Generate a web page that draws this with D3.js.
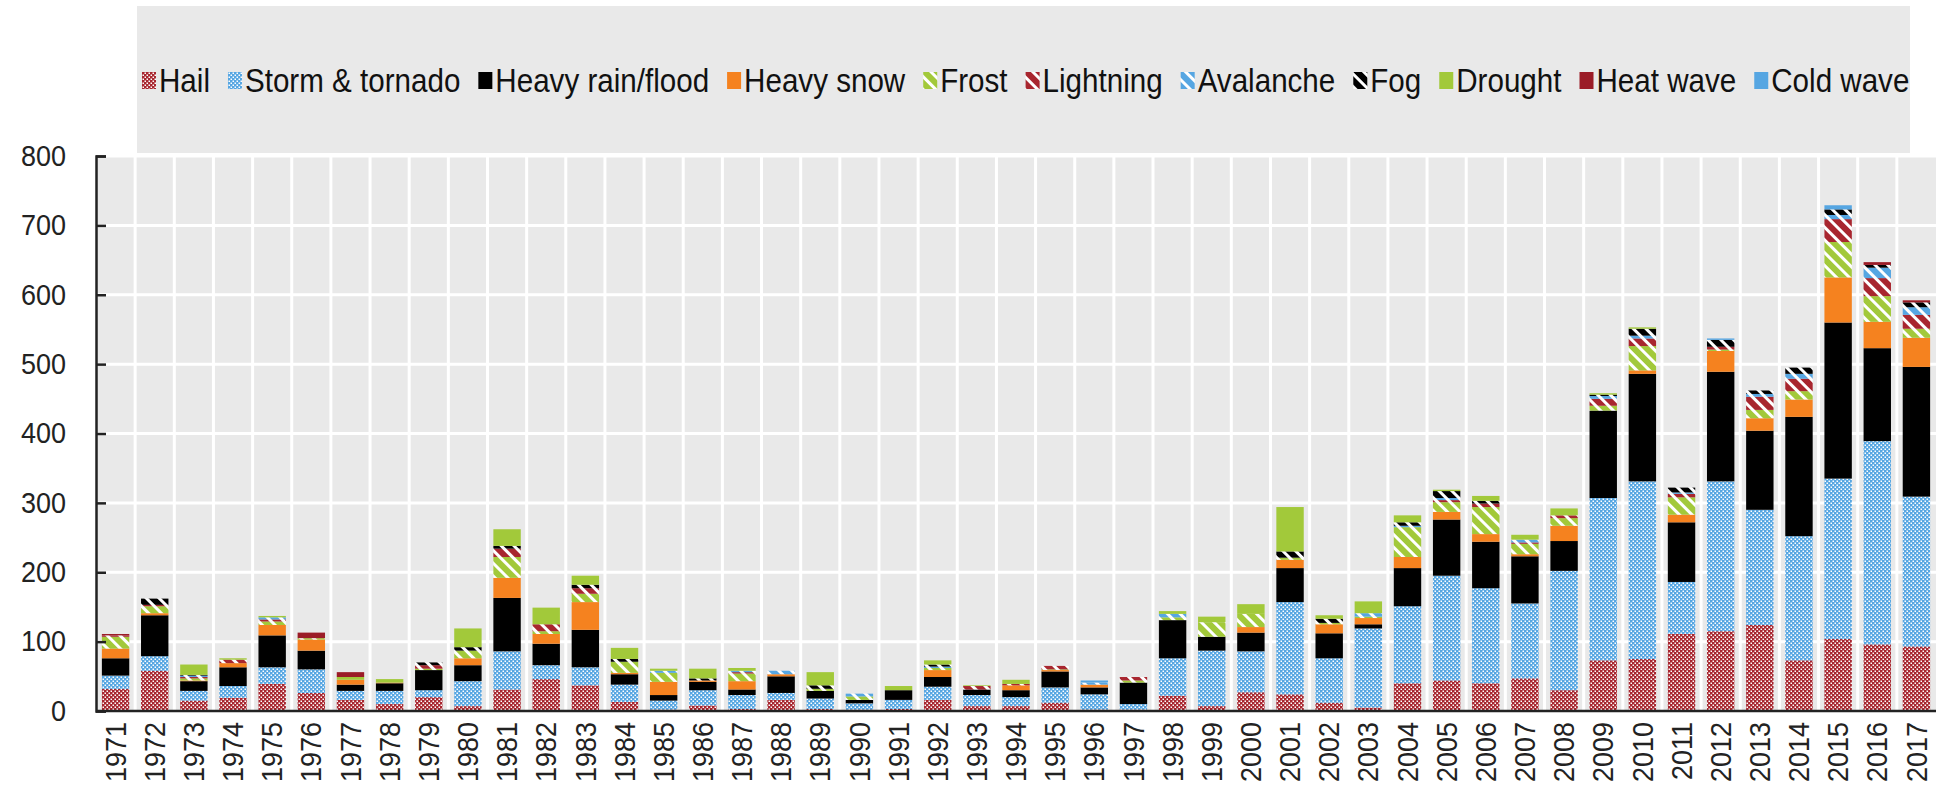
<!DOCTYPE html>
<html>
<head>
<meta charset="utf-8">
<script src="https://cdn.jsdelivr.net/npm/d3@7"></script>
<style>
  html, body { margin: 0; padding: 0; background: #ffffff; }
  svg { display: block; }
  text { font-family: "Liberation Sans", Arial, sans-serif; }
</style>
</head>
<body>
<svg id="chart" width="1939" height="785"></svg>
<script>
const years = ["1971","1972","1973","1974","1975","1976","1977","1978","1979","1980",
  "1981","1982","1983","1984","1985","1986","1987","1988","1989","1990",
  "1991","1992","1993","1994","1995","1996","1997","1998","1999","2000",
  "2001","2002","2003","2004","2005","2006","2007","2008","2009","2010",
  "2011","2012","2013","2014","2015","2016","2017"];

const hail      = [32,58,15,19,39,26,16,10,20,7, 31,46,37,13,2,8,3,16,3,2, 3,16,7,7,12,2,2,22,7,27, 24,12,5,40,44,40,47,30,73,75, 111,115,124,73,104,96,93];
const storm     = [19,21,14,17,24,34,13,19,10,36, 55,20,26,25,13,22,20,10,15,9, 13,19,16,13,22,22,8,54,80,59, 133,64,114,111,151,137,108,172,234,256, 75,216,166,179,231,293,216];
const rain      = [25,59,14,27,46,27,9,11,29,23, 77,31,54,15,8,12,8,24,11,5, 14,14,8,10,23,10,31,55,20,27, 49,36,6,55,81,67,68,43,126,155, 86,158,114,172,225,134,187];
const snow      = [14,3,1,6,15,16,7,1,0,10, 29,14,40,2,19,2,12,3,0,0, 0,10,0,7,2,4,0,0,0,8, 12,13,9,16,11,11,3,22,0,5, 11,30,18,25,65,38,42];
const frost     = [17,10,3,0,5,2,0,0,2,11, 30,4,12,16,13,0,11,0,3,5, 0,3,0,0,1,0,3,4,21,19, 3,2,2,43,14,39,15,11,7,35, 25,2,12,12,51,37,13];
const lightning = [2,2,2,5,3,0,0,0,5,0, 12,10,8,0,0,0,2,0,0,0, 0,0,5,2,5,0,5,0,0,0, 0,0,0,0,3,5,2,4,10,11, 5,4,19,18,33,26,20];
const avalanche = [0,0,2,0,3,0,0,0,0,0, 0,0,0,0,3,0,2,5,0,4, 0,2,0,0,0,3,0,5,0,0, 0,0,5,2,3,0,4,0,4,4, 2,0,4,7,6,15,11];
const fog       = [0,9,1,0,0,0,0,0,4,5, 4,0,5,4,0,3,0,0,5,0, 0,3,0,0,0,0,0,0,0,0, 9,6,0,5,10,4,0,0,2,10, 7,10,5,9,8,4,7];
const drought   = [0,0,15,2,2,0,4,5,0,27, 24,24,13,16,3,14,4,0,19,0, 6,6,1,6,0,0,0,4,8,14, 64,5,17,10,2,7,7,10,2,2, 0,0,0,0,0,0,0];
const heatWave  = [2,0,0,0,0,8,7,0,0,0, 0,0,0,0,0,0,0,0,0,0, 0,0,0,0,0,0,0,0,0,0, 0,0,0,0,0,0,0,0,0,0, 0,0,0,0,0,4,3];
const coldWave  = [0,0,0,0,0,0,0,0,0,0, 0,0,0,0,0,0,0,0,0,0, 0,0,0,0,0,3,0,0,0,0, 0,0,0,0,0,0,0,0,0,0, 0,2,0,0,6,0,0];

const seriesNames = ["Hail","Storm & tornado","Heavy rain/flood","Heavy snow","Frost","Lightning","Avalanche","Fog","Drought","Heat wave","Cold wave"];
const seriesKeys  = ["hail","storm","rain","snow","frost","lightning","avalanche","fog","drought","heat","cold"];
const seriesValues = [hail, storm, rain, snow, frost, lightning, avalanche, fog, drought, heatWave, coldWave];
const yTicks = [0,100,200,300,400,500,600,700,800];

// styles (kept apart from data)
const RED = "#a8262f", BLUE = "#56a6e2", GREEN = "#a2c93a", ORANGE = "#f5821f", DKRED = "#9b1c27";
const styles = {
  hail:      {type:"dots",   color: RED},
  storm:     {type:"dots",   color: BLUE},
  rain:      {type:"solid",  color: "#000000"},
  snow:      {type:"solid",  color: ORANGE},
  frost:     {type:"stripe", color: GREEN},
  lightning: {type:"stripe", color: RED},
  avalanche: {type:"stripe", color: BLUE},
  fog:       {type:"stripe", color: "#000000"},
  drought:   {type:"solid",  color: GREEN},
  heat:      {type:"solid",  color: DKRED},
  cold:      {type:"solid",  color: BLUE}
};

const svg = d3.select("#chart");
const defs = svg.append("defs");
seriesKeys.forEach(k => {
  const s = styles[k];
  if (s.type === "dots") {
    const p = defs.append("pattern").attr("id","pat-"+k).attr("patternUnits","userSpaceOnUse")
      .attr("width",4).attr("height",4);
    p.append("rect").attr("width",4).attr("height",4).attr("fill",s.color);
    p.append("rect").attr("x",0.5).attr("y",0.5).attr("width",1.5).attr("height",1.5).attr("fill","#ffffff");
    p.append("rect").attr("x",2.5).attr("y",2.5).attr("width",1.5).attr("height",1.5).attr("fill","#ffffff");
  } else if (s.type === "stripe") {
    const p = defs.append("pattern").attr("id","pat-"+k).attr("patternUnits","userSpaceOnUse")
      .attr("width",9).attr("height",9).attr("patternTransform","rotate(-45)");
    p.append("rect").attr("width",9).attr("height",9).attr("fill",s.color);
    p.append("rect").attr("x",3).attr("width",3).attr("height",9).attr("fill","#ffffff");
  }
});
const fillOf = k => styles[k].type === "solid" ? styles[k].color : "url(#pat-"+k+")";

// condense text horizontally (narrow-font look) while keeping it real text
function condense(sel, factor) {
  sel.each(function() {
    const len = this.getComputedTextLength();
    d3.select(this).attr("textLength", len * factor).attr("lengthAdjust", "spacingAndGlyphs");
  });
}

const pLeft = 96, pRight = 1936, pTop = 156, pBottom = 711;

const x = d3.scaleBand().domain(years).range([pLeft, pRight]).paddingInner(0.3).paddingOuter(0.15);
const y = d3.scaleLinear().domain([0, 800]).range([pBottom, pTop]);

// plot background
svg.append("rect").attr("x", pLeft).attr("y", pTop).attr("width", pRight - pLeft).attr("height", pBottom - pTop)
  .attr("fill", "#e9e9e9");

// horizontal gridlines
svg.append("g").selectAll("line").data(yTicks.filter(t => t > 0)).join("line")
  .attr("x1", pLeft).attr("x2", pRight).attr("y1", d => y(d)).attr("y2", d => y(d))
  .attr("stroke", "#ffffff").attr("stroke-width", 3);

// vertical gridlines at band boundaries
const step = x.step();
svg.append("g").selectAll("line").data(years.slice(1)).join("line")
  .attr("x1", d => x(d) - x.paddingOuter() * step).attr("x2", d => x(d) - x.paddingOuter() * step)
  .attr("y1", pTop).attr("y2", pBottom)
  .attr("stroke", "#ffffff").attr("stroke-width", 3);

// stacked data
const table = years.map((yr, i) => {
  const o = {year: yr};
  seriesKeys.forEach((k, j) => o[k] = seriesValues[j][i]);
  return o;
});
const stack = d3.stack().keys(seriesKeys)(table);

svg.append("g").selectAll("g").data(stack).join("g")
  .attr("fill", d => fillOf(d.key))
  .selectAll("rect").data(d => d.filter(v => v[1] - v[0] > 0)).join("rect")
  .attr("x", d => x(d.data.year))
  .attr("width", x.bandwidth())
  .attr("y", d => y(d[1]))
  .attr("height", d => y(d[0]) - y(d[1]));

// y axis
const yAxis = d3.axisLeft(y).tickValues(yTicks).tickSize(-10).tickPadding(30);
const gy = svg.append("g").attr("transform", `translate(${pLeft},0)`).call(yAxis);
gy.select(".domain").attr("stroke", "#222").attr("stroke-width", 2.5);
gy.selectAll(".tick line").attr("stroke", "#222").attr("stroke-width", 2.5);
gy.selectAll(".tick text").attr("font-size", 29).attr("fill", "#222")
  .attr("font-family", '"Liberation Sans", Arial, sans-serif');
condense(gy.selectAll(".tick text"), 0.93);

// x axis
const xAxis = d3.axisBottom(x).tickSize(0).tickPadding(0);
const gx = svg.append("g").attr("transform", `translate(0,${pBottom})`).call(xAxis);
gx.select(".domain").attr("stroke", "#222").attr("stroke-width", 2.5).attr("d", `M${pLeft},0H${pRight}`);
gx.selectAll(".tick text")
  .attr("font-size", 29).attr("fill", "#222")
  .attr("font-family", '"Liberation Sans", Arial, sans-serif')
  .attr("transform", "rotate(-90)")
  .attr("text-anchor", "end")
  .attr("x", -11).attr("y", 0).attr("dy", "0.35em");
condense(gx.selectAll(".tick text"), 0.93);

// legend
const lg = svg.append("g");
lg.append("rect").attr("x", 137).attr("y", 6).attr("width", 1773).attr("height", 147).attr("fill", "#e9e9e9");
let cx = 142;
const legendY = 80;
seriesKeys.forEach((k, j) => {
  const item = lg.append("g");
  item.append("rect").attr("x", cx).attr("y", legendY - 8).attr("width", 14).attr("height", 17)
    .attr("fill", fillOf(k));
  const t = item.append("text").attr("x", cx + 17).attr("y", legendY).attr("dy", "0.36em")
    .attr("font-size", 34).attr("fill", "#111").text(seriesNames[j]);
  const len = t.node().getComputedTextLength() * 0.87;
  t.attr("textLength", len).attr("lengthAdjust", "spacingAndGlyphs");
  cx += 17 + len + 18;
});
</script>
</body>
</html>
